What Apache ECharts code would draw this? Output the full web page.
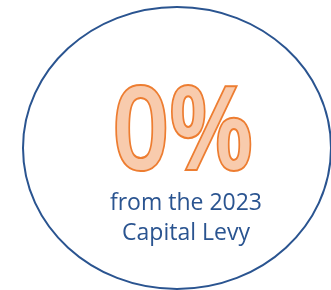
<!DOCTYPE html>
<html>
<head>
<meta charset="utf-8">
<script src="https://cdn.jsdelivr.net/npm/echarts@6/dist/echarts.min.js"></script>
<style>
  html, body { margin: 0; padding: 0; background: #fff; }
  #chart { width: 331px; height: 290px; }
</style>
</head>
<body>
<div id="chart"></div>
<script>
// headline figure and caption
var statValue = [0];
var statUnit = ['%'];
var captionLines = ['from the 2023', 'Capital Levy'];

var chartDom = document.getElementById('chart');
var myChart = echarts.init(chartDom, null, { renderer: 'canvas' });

var blue = '#2A5490';
var cx = 177, cy = 148;

var option = {
  animation: false,
  graphic: [
    {
      type: 'ellipse',
      shape: { cx: cx, cy: cy, rx: 154, ry: 141 },
      style: { fill: 'none', stroke: blue, lineWidth: 2 }
    },
    {
      type: 'text',
      x: 183, y: 137,
      scaleX: 0.86,
      style: {
        text: statValue[0] + statUnit[0],
        font: '600 114px "Open Sans"',
        fill: '#F8CBAD',
        stroke: '#ED7D31',
        lineWidth: 4,
        align: 'center',
        verticalAlign: 'middle'
      }
    },
    {
      type: 'text',
      x: 186, y: 203,
      style: {
        text: captionLines[0],
        font: '23px "Open Sans"',
        fill: blue,
        align: 'center',
        verticalAlign: 'middle'
      }
    },
    {
      type: 'text',
      x: 186, y: 233,
      style: {
        text: captionLines[1],
        font: '23px "Open Sans"',
        fill: blue,
        align: 'center',
        verticalAlign: 'middle'
      }
    }
  ]
};

option && myChart.setOption(option);
</script>
</body>
</html>
